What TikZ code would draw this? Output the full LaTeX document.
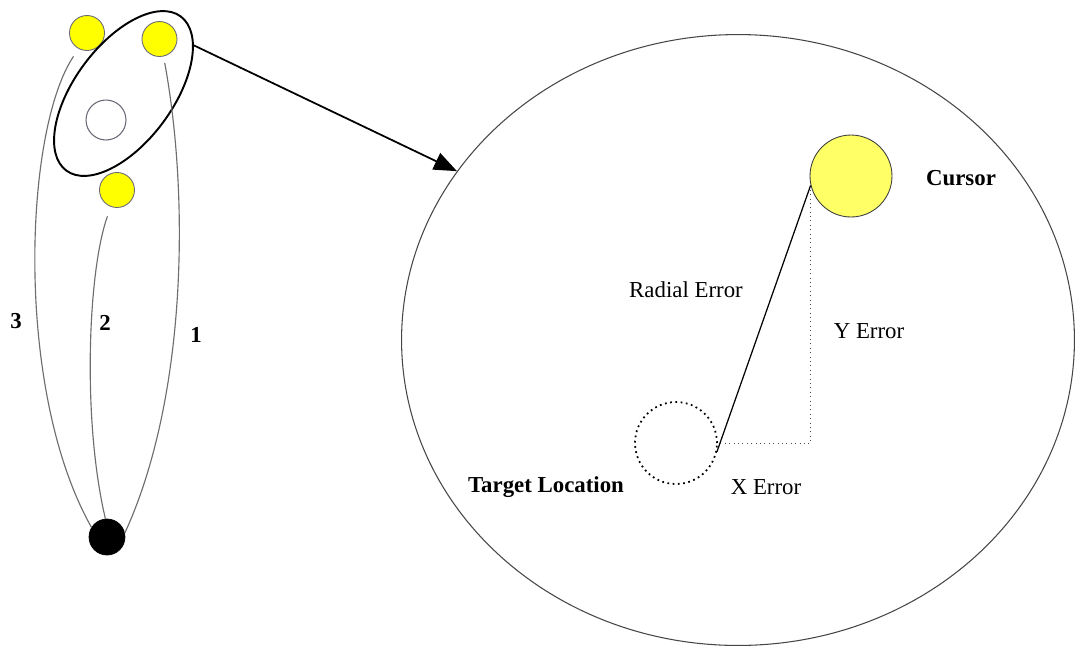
\documentclass[tikz,border=0pt]{standalone}
\usepackage{fontspec}
\setmainfont{Liberation Serif}
\usepackage{tikz}
\usetikzlibrary{arrows.meta, shapes.geometric}
\definecolor{markyellow}{RGB}{255, 255, 0}
\definecolor{cursoryellow}{RGB}{255, 255, 102}
\definecolor{rimgray}{RGB}{105, 105, 120}
\definecolor{pathgray}{RGB}{110, 110, 110}
\definecolor{viewgray}{RGB}{70, 70, 70}

\begin{document}
\begin{tikzpicture}[
    x=0.02cm, y=-0.02cm,
    font=\fontsize{13}{15}\selectfont,
    posmark/.style={circle, draw=rimgray, fill=markyellow, line width=0.5pt, minimum size=0.7cm, inner sep=0pt},
    centremark/.style={circle, draw=rimgray, fill=white, line width=0.6pt, minimum size=0.8cm, inner sep=0pt},
    homemark/.style={circle, draw=black, fill=black, minimum size=0.72cm, inner sep=0pt},
    traj/.style={draw=pathgray, line width=0.65pt},
    lens/.style={ellipse, draw=black, line width=1.1pt, minimum width=3.84cm, minimum height=1.96cm, inner sep=0pt, rotate=53.4},
    view/.style={ellipse, draw=viewgray, line width=0.6pt, minimum width=13.46cm, minimum height=12.22cm, inner sep=0pt},
    cursorbox/.style={circle, draw=black!75, fill=cursoryellow, line width=0.5pt, minimum size=1.64cm, inner sep=0pt},
    targetbox/.style={circle, draw=black, dotted, line width=1pt, minimum size=1.64cm, inner sep=0pt},
    zoomarr/.style={-{Triangle[length=0.46cm, width=0.36cm]}, line width=1pt, black},
    errline/.style={line width=0.7pt, black},
    errdot/.style={dotted, line width=0.5pt, black!70},
    bold/.style={font=\fontsize{13}{15}\selectfont\bfseries}
]
    \useasboundingbox (0,0) rectangle (1076,647);

    \node[posmark] (tgt3) at (87,33) {};
    \node[posmark] (tgt1) at (159.5,39) {};
    \node[centremark] (ctr) at (106,120) {};
    \node[posmark] (tgt2) at (117,190) {};
    \node[homemark] (home) at (107,537) {};
    \node[lens] (zoom) at (123.5,93.5) {};

    \draw[traj, shorten >=0.13cm] (home.13) .. controls (186,400) and (190,200) .. (tgt1.283);
    \draw[traj, shorten >=0.2cm] (home.95) .. controls (82,420) and (88,270) .. (tgt2.250);
    \draw[traj, shorten >=0.18cm] (home.148) .. controls (14,390) and (24,130) .. (tgt3.242);

    \node[bold] (lbl1) at (196,335) {1};
    \node[bold] (lbl2) at (105,323) {2};
    \node[bold] (lbl3) at (16,321) {3};

    \node[view] (detail) at (738,340) {};
    \draw[zoomarr] (zoom.-19) -- (detail.149);

    \node[cursorbox] (cursor) at (851,176) {};
    \node[targetbox] (target) at (676,443) {};
    \draw[errline] (target.-12) -- (cursor.193);
    \draw[errdot] (cursor.193) |- (target.east);

    \node[bold] (cursorlbl) at (961,178) {Cursor};
    \node[bold] (targetlbl) at (546,487) {Target Location};
    \node (radiallbl) at (686,290) {Radial Error};
    \node (ylbl) at (869,331) {Y Error};
    \node (xlbl) at (766,487) {X Error};
\end{tikzpicture}
\end{document}
